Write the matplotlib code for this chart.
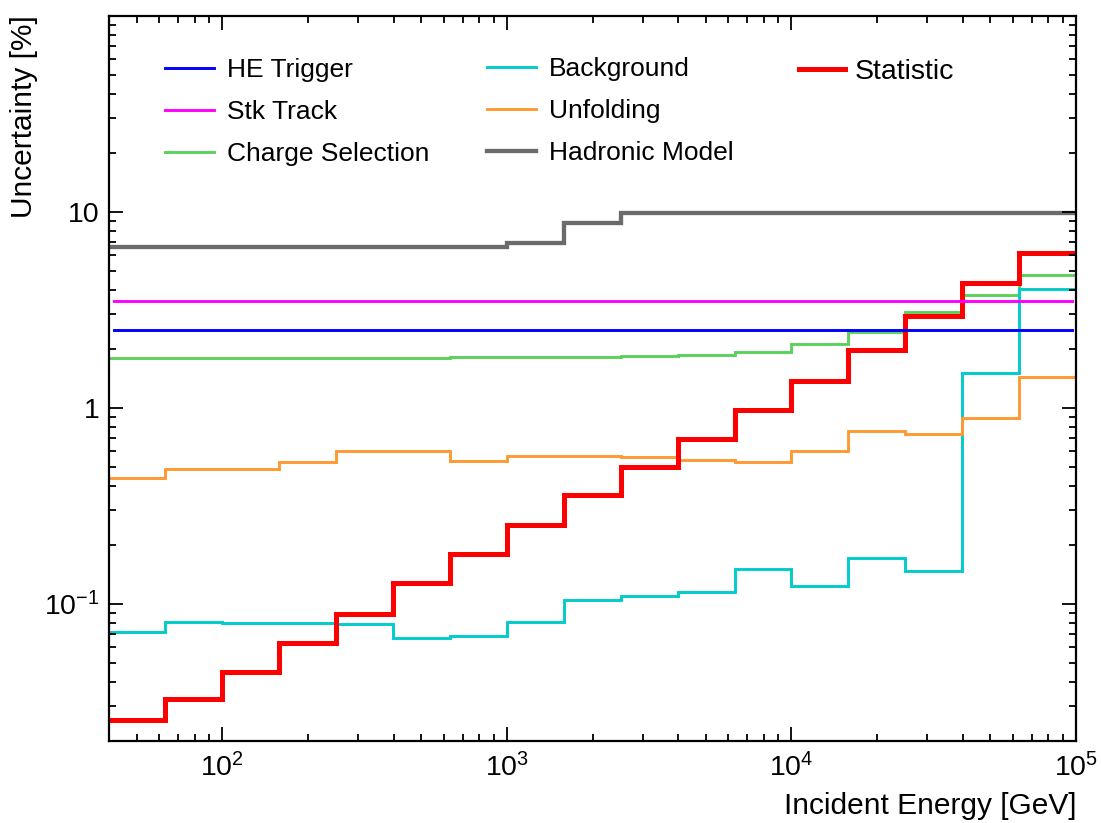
import numpy as np
import matplotlib
matplotlib.use("Agg")
import matplotlib.pyplot as plt
from matplotlib.ticker import FixedLocator, LogLocator, FixedFormatter, NullFormatter

plt.rcParams['font.family'] = ['Liberation Sans', 'DejaVu Sans']
plt.rcParams['mathtext.fontset'] = 'custom'
plt.rcParams['mathtext.rm'] = 'Liberation Sans'
plt.rcParams['mathtext.it'] = 'Liberation Sans'
plt.rcParams['mathtext.bf'] = 'Liberation Sans'

# ---------------- data ----------------
energy_edges = [40, 63.1, 100, 158.5, 251.2, 398.1, 631.0, 1000, 1585, 2512,
                3981, 6310, 10000, 15849, 25119, 39811, 63096, 100000]

he_trigger = 2.5
stk_track = 3.5
charge_selection = [1.80, 1.80, 1.80, 1.80, 1.80, 1.80, 1.81, 1.81, 1.81,
                    1.83, 1.86, 1.93, 2.11, 2.44, 3.06, 3.78, 4.75]
background = [0.0713, 0.0805, 0.0793, 0.0795, 0.0787, 0.0668, 0.0686, 0.0809, 0.104,
              0.110, 0.1154, 0.150, 0.1234, 0.1707, 0.146, 1.508, 4.01]
unfolding = [0.440, 0.485, 0.489, 0.529, 0.599, 0.599, 0.535, 0.569, 0.569,
             0.563, 0.539, 0.526, 0.604, 0.757, 0.737, 0.883, 1.434]
hadronic = [6.62, 6.62, 6.62, 6.62, 6.62, 6.62, 6.62, 6.90, 8.80,
            9.80, 9.80, 9.80, 9.80, 9.80, 9.80, 9.80, 9.80]
statistic = [0.0256, 0.0328, 0.0446, 0.0630, 0.0891, 0.128, 0.180, 0.252, 0.357,
             0.500, 0.690, 0.973, 1.368, 1.96, 2.93, 4.31, 6.17]

x_ticks = [1e2, 1e3, 1e4, 1e5]
x_tick_labels = [r'$10^{2}$', r'$10^{3}$', r'$10^{4}$', r'$10^{5}$']
y_ticks = [0.1, 1, 10]
y_tick_labels = [r'$10^{-1}$', '1', '10']

# ---------------- styling ----------------
c_blue = '#0000ff'
c_mag = '#ff00ff'
c_green = '#5ad25a'
c_cyan = '#00cccc'
c_orange = '#ff9933'
c_gray = '#6b6b6b'
c_red = '#ff0000'

W, H = 1101, 823
fig = plt.figure(figsize=(W / 100, H / 100), dpi=100)
ax = fig.add_axes([109 / W, 1 - 740.7 / H, (1076 - 109) / W, (740.7 - 15.7) / H])

lw = 2.1
l_he = ax.axhline(he_trigger, xmin=0.005, xmax=0.996, color=c_blue, lw=lw, label='HE Trigger')
l_stk = ax.axhline(stk_track, xmin=0.005, xmax=0.996, color=c_mag, lw=lw, label='Stk Track')
l_ch = ax.stairs(charge_selection, energy_edges, color=c_green, lw=lw, baseline=None, label='Charge Selection')
l_bg = ax.stairs(background, energy_edges, color=c_cyan, lw=lw, baseline=None, label='Background')
l_un = ax.stairs(unfolding, energy_edges, color=c_orange, lw=lw, baseline=None, label='Unfolding')
l_had = ax.stairs(hadronic, energy_edges, color=c_gray, lw=3.1, baseline=None, label='Hadronic Model')
l_st = ax.stairs(statistic, energy_edges, color=c_red, lw=3.6, baseline=None, label='Statistic')

ax.set_xscale('log')
ax.set_yscale('log')
ax.set_xlim(40, 1e5)
ax.set_ylim(0.02, 100)

ax.xaxis.set_major_locator(FixedLocator(x_ticks))
ax.xaxis.set_major_formatter(FixedFormatter(x_tick_labels))
ax.xaxis.set_minor_locator(LogLocator(base=10, subs=np.arange(2, 10), numticks=20))
ax.xaxis.set_minor_formatter(NullFormatter())
ax.yaxis.set_major_locator(FixedLocator(y_ticks))
ax.yaxis.set_major_formatter(FixedFormatter(y_tick_labels))
ax.yaxis.set_minor_locator(LogLocator(base=10, subs=np.arange(2, 10), numticks=20))
ax.yaxis.set_minor_formatter(NullFormatter())

ax.tick_params(which='both', direction='in', top=True, right=True, width=1.3, colors='black')
ax.tick_params(which='major', length=10, labelsize=20.5)
ax.tick_params(which='minor', length=5)
ax.tick_params(axis='x', which='major', pad=9)
ax.tick_params(axis='y', which='major', pad=7)
for s in ax.spines.values():
    s.set_linewidth(1.6)

ax.set_xlabel('Incident Energy [GeV]', fontsize=21.5, loc='right', labelpad=7)
ax.set_ylabel('Uncertainty [%]', fontsize=21.5, loc='top', labelpad=4)

leg_kw = dict(frameon=False, borderpad=0, borderaxespad=0, handlelength=1.85,
              handletextpad=0.5, labelspacing=0.68, fontsize=19, loc='upper left',
              bbox_transform=fig.transFigure)
leg1 = fig.legend(handles=[l_he, l_stk, l_ch], bbox_to_anchor=(165 / W, 1 - 58 / H), **leg_kw)
leg2 = fig.legend(handles=[l_bg, l_un, l_had], bbox_to_anchor=(487 / W, 1 - 57 / H), **leg_kw)
leg_kw3 = dict(leg_kw)
leg_kw3.update(fontsize=20.5, handlelength=1.6, handletextpad=0.35)
leg3 = fig.legend(handles=[l_st], bbox_to_anchor=(799 / W, 1 - 59 / H), **leg_kw3)

fig.savefig('out.png', dpi=100)
